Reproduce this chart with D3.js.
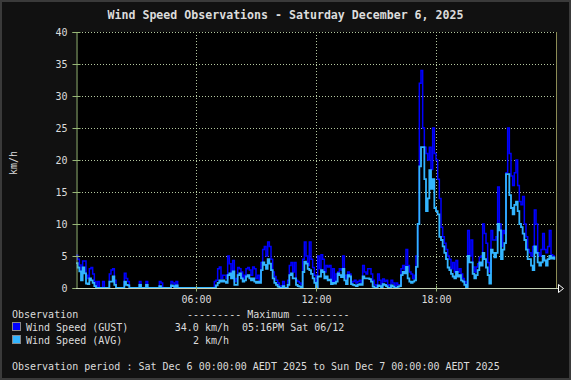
<!DOCTYPE html>
<html><head><meta charset="utf-8">
<script src="https://cdn.jsdelivr.net/npm/d3@7"></script>
<style>html,body{margin:0;padding:0;background:#111;}svg{display:block;}</style>
</head><body>
<svg id="c" width="571" height="380"></svg>
<script>
// ---- data (5-minute samples, km/h) ----
const title = "Wind Speed Observations - Saturday December 6, 2025";
const yTicks = [0,5,10,15,20,25,30,35,40];
const xTickHours = [6,12,18];
const xTickLabels = ["06:00","12:00","18:00"];
const gust = [
5.1,4.5,3.6,2.5,4.2,4.2,2.0,1.5,3.0,3.2,2.2,1.0,
0,1.0,0,0,1.0,0,0,0,2.2,2.8,3.0,1.2,
0,0,0,0,0,2.3,1.5,1.0,0,0,0,0,
0,0,1.0,0,0,0,1.0,0,0,0,0,0,
0,0,1.0,0.8,0,0,0,0,0,1.0,0.8,0,
1.0,0,0,0,0,0,0,0,0,0,0,0,
0,0,0,0,0,0,0,0,0,0,0,1.0,
1.2,3.0,3.3,1.5,2.0,2.0,1.5,5.0,3.8,2.2,4.3,1.0,
1.5,3.2,3.0,2.5,1.5,2.0,3.0,3.2,2.8,2.0,3.3,3.0,
1.5,2.0,1.2,4.0,6.0,6.5,5.0,7.2,6.5,4.5,2.5,1.8,
1.2,0.8,0.3,0.3,1.0,0,0,1.2,3.5,4.0,2.5,4.0,
1.2,1.0,0.8,0.5,4.5,7.2,5.0,3.5,7.2,4.5,3.2,2.0,
0,5.0,3.0,5.2,4.5,2.5,3.5,3.3,3.5,1.0,3.0,1.0,
2.2,2.5,3.0,2.8,5.0,2.0,1.5,2.5,2.2,0.8,1.0,1.2,
0.8,1.0,1.2,0.8,3.5,2.5,2.2,3.0,3.0,2.2,1.2,0.5,
0.3,2.2,1.2,0.3,1.4,1.0,1.2,0.5,0.3,1.2,0.8,0.3,
0.8,0.5,0.5,3.0,3.5,2.8,6.0,3.5,2.5,2.2,1.5,2.0,
5.0,10.0,32.0,34.0,25.0,22.0,21.0,20.0,22.0,18.5,25.0,21.0,
20.0,17.0,14.0,9.5,8.0,7.0,6.0,5.0,4.5,3.0,4.0,2.5,
4.3,2.5,3.0,2.2,1.5,1.0,0.3,9.0,5.0,7.5,3.3,2.5,
3.3,3.8,4.8,5.0,10.0,8.5,7.0,4.0,2.5,9.0,7.5,7.5,
8.0,15.8,10.0,6.5,9.0,8.5,18.0,25.0,21.0,17.5,16.0,18.0,
20.0,16.0,13.5,13.0,14.3,10.0,8.0,6.0,5.5,5.0,6.5,12.2,
10.0,5.5,5.0,6.0,8.5,6.0,5.5,6.5,9.0,5.2,5.0,4.5
];
const avg = [
3.9,3.2,2.6,1.2,3.2,2.3,0.7,0.6,1.5,1.2,0.8,0.3,
0,0,0,0,0,0,0,0,1.0,1.0,1.8,0.5,
0,0,0,0,0,1.0,0.5,0.4,0,0,0,0,
0,0,0.5,0,0,0,0.5,0,0,0,0,0,
0,0,0.3,0,0,0,0,0,0,0.4,0.3,0,
0.4,0,0,0,0,0,0,0,0,0,0,0,
0,0,0,0,0,0,0,0,0,0,0,0,
0.4,0.8,1.2,1.0,1.2,1.0,0.8,2.0,2.3,1.5,2.6,0.5,
0.5,2.0,2.3,1.5,1.0,1.2,1.8,2.0,1.5,1.2,1.5,1.0,
0.8,1.0,0.8,2.8,4.0,3.6,3.0,4.5,3.8,2.8,1.5,0.8,
0.5,0.2,0,0,0.3,0,0,0.5,2.0,2.3,1.5,1.5,
0.5,0.3,0.2,0,2.5,4.1,3.8,3.0,2.8,2.2,1.5,0.8,
0,1.8,1.8,2.8,2.5,1.5,1.8,1.2,1.3,0.6,0.8,0.7,
1.0,2.3,2.0,1.7,3.0,1.2,0.6,2.0,1.8,0.6,0.5,0.4,
0.3,0.5,0.6,0.5,1.8,1.5,1.5,1.5,1.4,1.0,0.2,0,
0,0.4,0.3,0,0.6,0.5,0.3,0,0,0.4,0.2,0,
0,0.2,0.3,2.0,2.5,2.3,3.3,1.5,1.0,0.8,1.0,1.2,
3.3,10.0,19.0,22.0,22.0,17.0,12.0,14.0,18.4,15.5,17.0,12.5,
12.0,11.5,8.0,7.5,6.5,5.5,4.5,3.2,2.8,2.2,1.8,1.5,
2.5,1.8,2.0,1.2,1.0,0.5,0,5.0,4.0,4.0,2.2,1.5,
2.0,2.8,4.0,3.5,5.5,4.5,3.2,2.0,0.7,6.0,5.5,4.8,
5.5,10.0,9.0,4.5,6.0,7.0,17.8,17.8,14.5,12.5,11.5,13.0,
13.5,12.0,10.0,9.5,8.5,7.5,6.0,4.5,4.5,3.5,2.8,6.5,
5.5,4.0,3.5,4.0,5.0,4.3,3.5,4.5,5.0,4.6,4.8,4.4
];
const seriesNames = ["Wind Speed (GUST)","Wind Speed (AVG)"];
const seriesMax = ["34.0 km/h","2 km/h"];
const seriesMaxWhen = ["05:16PM Sat 06/12",""];
const period = "Observation period : Sat Dec 6 00:00:00 AEDT 2025 to Sun Dec 7 00:00:00 AEDT 2025";

// ---- drawing ----
const svg = d3.select("#c");
const W=571,H=380;
const L=76,R=556,T=32,B=288;
const font = "'DejaVu Sans Mono', monospace";
const textCol = "#dcdcdc";
const gridCol = "#b4c8a0";
const axisCol = "#98b878";
const colors = ["#0000ff","#33b5ff"];

svg.append("rect").attr("x",1).attr("y",1).attr("width",W-2).attr("height",H-2)
  .attr("fill","#111").attr("stroke","#3a3a3a").attr("stroke-width",2);

const x = d3.scaleLinear().domain([0,24*60]).range([L,R]);
const y = d3.scaleLinear().domain([0,40]).range([B,T]);

svg.append("rect").attr("x",L).attr("y",T).attr("width",R-L).attr("height",B-T).attr("fill","#000");

// grid
svg.append("g").selectAll("line").data(yTicks.filter(v=>v>0)).join("line")
  .attr("x1",L).attr("x2",R).attr("y1",d=>y(d)+0.5).attr("y2",d=>y(d)+0.5)
  .attr("stroke",gridCol).attr("stroke-width",1).attr("stroke-dasharray","1,2");
svg.append("g").selectAll("line").data(xTickHours).join("line")
  .attr("x1",d=>x(d*60)+0.5).attr("x2",d=>x(d*60)+0.5).attr("y1",T).attr("y2",B)
  .attr("stroke",gridCol).attr("stroke-width",1).attr("stroke-dasharray","1,2");

// data
const clip = svg.append("clipPath").attr("id","pc").append("rect")
  .attr("x",L).attr("y",T-2).attr("width",R-L).attr("height",B-T+2);
const line = d3.line().x((d,i)=>x(i*5)).y(d=>y(d)).curve(d3.curveStepAfter);
const gData = svg.append("g").attr("clip-path","url(#pc)");
gData.append("path").datum(gust).attr("d",line).attr("fill","none")
  .attr("stroke",colors[0]).attr("stroke-width",1.5);
gData.append("path").datum(avg).attr("d",line).attr("fill","none")
  .attr("stroke",colors[1]).attr("stroke-width",1.8);

// axes
const yAxis = d3.axisLeft(y).tickValues(yTicks).tickSize(4).tickPadding(5).tickFormat(d3.format("d"));
const gy = svg.append("g").attr("transform",`translate(${L+0.5},0)`).call(yAxis);
gy.select(".domain").attr("stroke",axisCol);
gy.selectAll(".tick line").attr("stroke",axisCol).attr("x1",4);
gy.selectAll("text").attr("fill",textCol).attr("font-family",font).attr("font-size",10);

const xAxis = d3.axisBottom(x).tickValues(xTickHours.map(h=>h*60)).tickSize(3).tickPadding(4)
  .tickFormat((d,i)=>xTickLabels[i]);
const gx = svg.append("g").attr("transform",`translate(0,${B+0.5})`).call(xAxis);
gx.select(".domain").attr("stroke","#c8d4b8").attr("d",`M${L},0H${R+2}`);
gx.selectAll(".tick line").attr("stroke",axisCol).attr("y1",-3);
gx.selectAll("text").attr("fill",textCol).attr("font-family",font).attr("font-size",10);

// right border
svg.append("line").attr("x1",R+0.5).attr("x2",R+0.5).attr("y1",T).attr("y2",B)
  .attr("stroke","#8c8c55").attr("stroke-width",1);
// arrow at axis end
svg.append("path").attr("d",`M${R+2.5},${B-3.5}L${R+7.5},${B+0.5}L${R+2.5},${B+4.5}Z`)
  .attr("fill","none").attr("stroke","#ffffff").attr("stroke-width",1);

// title
svg.append("text").attr("x",W/2).attr("y",19).attr("text-anchor","middle")
  .attr("fill",textCol).attr("font-family",font).attr("font-weight","bold").attr("font-size",11.6)
  .text(title);
// y title
svg.append("text").attr("transform","translate(17,163) rotate(-90)").attr("text-anchor","middle")
  .attr("fill",textCol).attr("font-family",font).attr("font-size",10).text("km/h");

// legend
const lg = svg.append("g").attr("font-family",font).attr("font-size",10).attr("fill",textCol);
lg.append("text").attr("x",12).attr("y",318).text("Observation");
lg.append("text").attr("x",187).attr("y",318).text("--------- Maximum ---------");
seriesNames.forEach((nm,i)=>{
  const by = 331 + i*13;
  lg.append("rect").attr("x",12.5).attr("y",by-8.5).attr("width",8).attr("height",8)
    .attr("fill",colors[i]).attr("stroke","#888").attr("stroke-width",1);
  lg.append("text").attr("x",26).attr("y",by).text(nm);
  lg.append("text").attr("x",229).attr("y",by).attr("text-anchor","end").text(seriesMax[i]);
  if (seriesMaxWhen[i]) lg.append("text").attr("x",242).attr("y",by).text(seriesMaxWhen[i]);
});
lg.append("text").attr("x",12).attr("y",370).text(period);
</script>
</body></html>
